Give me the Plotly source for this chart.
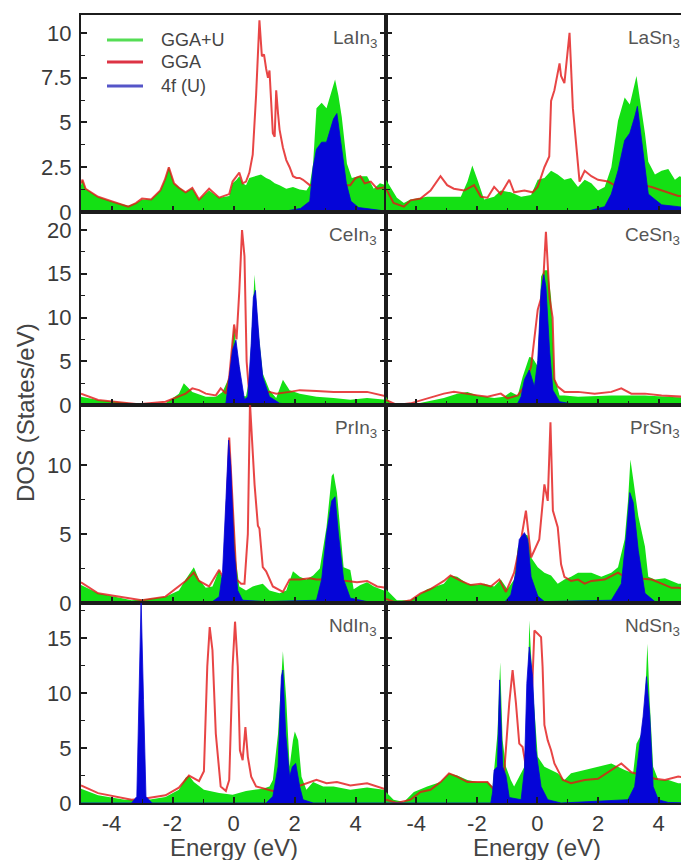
import plotly.graph_objects as go

# ---------------------------------------------------------------
# Density of states (States/eV) versus energy (eV), E_F = 0.
# Each series is a list of (energy, DOS) points.
# ggau = GGA+U total DOS, gga = plain GGA total DOS, f4 = 4f (U) partial DOS
# ---------------------------------------------------------------

lain3_ggau = [(-5.0,1.5),(-4.95,1.8),(-4.85,1.3),(-4.44,0.85),(-4.0,0.6),(-3.45,0.35),(-3.2,0.5),(-3.0,0.7),(-2.7,0.7),(-2.4,1.2),(-2.25,1.8),(-2.12,2.5),(-1.95,1.6),(-1.79,1.4),(-1.57,1.1),(-1.35,1.33),(-1.13,0.7),(-0.8,1.2),(-0.47,0.8),(-0.14,0.9),(-0.03,1.6),(0.1,1.8),(0.19,2.0),(0.3,1.6),(0.41,1.5),(0.52,1.9),(0.7,2.0),(0.9,2.1),(1.07,1.9),(1.2,1.8),(1.35,1.6),(1.51,1.5),(1.73,1.3),(1.95,1.4),(2.17,1.25),(2.39,1.2),(2.5,1.5),(2.61,2.7),(2.72,5.8),(2.89,6.1),(3.05,5.8),(3.22,6.7),(3.33,7.4),(3.44,6.5),(3.55,5.3),(3.72,2.7),(3.88,1.9),(4.1,2.0),(4.38,2.0),(4.6,1.3),(4.8,1.6),(5.0,1.5)]
lain3_gga = [(-5.0,1.6),(-4.95,1.8),(-4.85,1.3),(-4.44,0.85),(-4.0,0.6),(-3.45,0.3),(-3.2,0.5),(-3.0,0.75),(-2.7,0.7),(-2.4,1.2),(-2.25,1.8),(-2.12,2.5),(-1.95,1.6),(-1.79,1.35),(-1.57,1.1),(-1.35,1.35),(-1.13,0.7),(-0.8,1.3),(-0.47,0.8),(-0.14,1.0),(-0.03,1.7),(0.1,2.0),(0.19,2.2),(0.3,1.6),(0.41,1.7),(0.52,2.2),(0.63,3.2),(0.74,6.5),(0.85,10.7),(0.93,8.7),(1.0,8.8),(1.07,8.0),(1.13,7.5),(1.18,7.9),(1.29,4.4),(1.35,4.2),(1.40,6.8),(1.46,5.5),(1.51,4.6),(1.62,3.6),(1.73,2.9),(1.84,2.5),(1.95,2.0),(2.06,1.9),(2.17,1.9),(2.28,1.8),(2.5,1.5),(2.8,1.5),(3.2,1.5),(3.6,1.5),(3.83,1.5),(4.0,1.9),(4.16,2.0),(4.3,1.6),(4.5,1.7),(4.71,1.3),(5.0,1.4)]
lain3_f4 = [(-5.0,0.0),(1.5,0.0),(1.8,0.08),(2.2,0.2),(2.5,0.6),(2.61,2.5),(2.72,3.5),(2.89,3.9),(3.05,3.9),(3.17,4.6),(3.28,5.2),(3.39,5.5),(3.48,4.5),(3.59,3.0),(3.7,1.6),(3.85,0.6),(4.1,0.25),(4.5,0.15),(5.0,0.05)]

lasn3_ggau = [(-5.0,1.8),(-4.86,1.4),(-4.64,0.8),(-4.41,0.5),(-4.19,0.7),(-3.64,0.85),(-3.09,0.85),(-2.53,0.85),(-2.31,1.7),(-2.15,2.6),(-1.98,1.8),(-1.76,0.7),(-1.43,0.85),(-1.21,1.2),(-0.88,1.1),(-0.54,0.85),(-0.21,0.95),(0.01,1.8),(0.23,1.9),(0.45,2.3),(0.67,2.1),(0.89,1.8),(1.11,1.9),(1.34,1.4),(1.56,1.8),(1.78,1.6),(2.0,1.2),(2.22,1.4),(2.44,2.5),(2.66,5.1),(2.88,6.4),(3.05,6.0),(3.27,7.6),(3.44,5.7),(3.55,4.4),(3.66,2.8),(3.88,2.1),(4.1,2.3),(4.32,2.4),(4.54,1.8),(4.69,2.0),(5.0,1.8)]
lasn3_gga = [(-5.0,1.3),(-4.75,0.5),(-4.41,0.3),(-4.19,0.65),(-3.86,0.75),(-3.53,1.2),(-3.2,2.0),(-2.98,1.5),(-2.76,1.3),(-2.42,1.2),(-2.09,1.5),(-1.87,0.85),(-1.65,0.8),(-1.43,1.4),(-1.21,1.0),(-0.93,1.8),(-0.77,1.1),(-0.43,1.2),(-0.16,1.1),(0.01,1.4),(0.23,2.5),(0.39,3.1),(0.45,6.2),(0.56,6.8),(0.73,8.3),(0.78,7.6),(0.89,7.2),(1.06,10.0),(1.17,5.8),(1.28,3.8),(1.39,1.7),(1.56,2.3),(1.78,2.0),(2.0,1.8),(2.33,1.7),(2.55,1.5),(3.0,1.5),(3.5,1.5),(3.77,1.4),(4.1,1.2),(4.32,1.1),(4.65,0.9),(5.0,0.9)]
lasn3_f4 = [(-5.0,0.0),(1.5,0.0),(1.67,0.05),(2.22,0.3),(2.44,1.0),(2.66,2.3),(2.88,4.0),(3.05,4.4),(3.21,5.3),(3.3,5.9),(3.44,4.0),(3.55,2.5),(3.66,1.0),(3.88,0.7),(4.1,0.4),(4.65,0.3),(5.0,0.2)]

cein3_ggau = [(-5.0,0.95),(-4.44,0.57),(-3.34,0.19),(-2.23,0.19),(-1.79,1.3),(-1.63,2.5),(-1.35,1.5),(-0.91,0.95),(-0.58,0.95),(-0.36,1.5),(-0.14,3.2),(0.02,9.1),(0.1,6.0),(0.19,4.4),(0.3,1.0),(0.41,1.0),(0.52,3.0),(0.63,12.0),(0.69,14.9),(0.8,9.0),(0.96,3.6),(1.18,1.7),(1.4,0.8),(1.62,2.9),(1.84,1.7),(2.17,1.3),(2.72,0.95),(3.28,0.8),(3.83,0.6),(4.38,0.8),(5.0,0.6)]
cein3_gga = [(-5.0,1.3),(-4.44,0.57),(-3.12,0.1),(-2.23,0.38),(-1.57,1.3),(-1.35,1.9),(-1.13,1.7),(-0.91,1.3),(-0.58,1.1),(-0.42,1.9),(-0.25,1.3),(-0.14,3.2),(0.02,9.2),(0.1,7.5),(0.19,13.0),(0.28,20.0),(0.36,17.0),(0.43,5.0),(0.52,1.0),(0.69,1.2),(0.96,1.5),(1.18,1.5),(1.4,1.3),(1.84,1.5),(2.17,1.7),(2.72,1.6),(3.28,1.5),(3.83,1.5),(4.38,1.5),(5.0,1.0)]
cein3_f4 = [(-5.0,0.0),(-0.58,0.0),(-0.25,0.2),(-0.14,3.2),(-0.03,6.3),(0.08,7.4),(0.19,4.4),(0.36,0.6),(0.47,0.95),(0.58,7.0),(0.65,12.3),(0.72,13.1),(0.85,7.0),(0.96,3.2),(1.18,0.95),(1.51,0.2),(2.0,0.05),(5.0,0.0)]

cesn3_ggau = [(-5.0,0.95),(-4.86,0.2),(-4.19,0.0),(-3.64,0.38),(-3.09,0.8),(-2.65,1.3),(-2.31,1.5),(-1.98,1.1),(-1.43,0.8),(-1.1,0.95),(-0.88,1.5),(-0.65,1.1),(-0.49,3.2),(-0.27,5.5),(-0.16,5.4),(0.01,4.4),(0.12,14.7),(0.23,15.4),(0.34,15.4),(0.45,12.3),(0.56,3.2),(0.73,1.1),(0.89,1.1),(1.34,0.95),(2.44,1.1),(3.55,1.1),(4.65,0.8),(5.0,0.8)]
cesn3_gga = [(-5.0,0.57),(-4.64,0.0),(-4.19,0.19),(-3.64,0.76),(-3.09,1.3),(-2.76,1.5),(-2.42,1.3),(-1.98,1.1),(-1.65,0.95),(-1.21,1.3),(-0.99,0.76),(-0.65,1.1),(-0.43,2.1),(-0.21,4.4),(0.01,10.9),(0.17,12.8),(0.28,19.8),(0.4,12.3),(0.5,10.0),(0.56,2.9),(0.67,2.1),(0.89,1.5),(1.34,1.5),(1.89,1.3),(2.44,1.5),(2.77,1.9),(3.1,1.3),(3.55,1.3),(4.1,1.1),(4.65,0.95),(5.0,0.9)]
cesn3_f4 = [(-5.0,0.0),(-0.88,0.0),(-0.65,0.2),(-0.54,0.95),(-0.43,2.9),(-0.27,4.0),(-0.1,2.1),(0.01,5.1),(0.12,13.1),(0.21,14.9),(0.28,13.5),(0.4,6.3),(0.51,1.7),(0.73,0.38),(1.34,0.0),(5.0,0.0)]

prin3_ggau = [(-5.0,1.3),(-4.44,0.7),(-3.34,0.2),(-2.95,0.25),(-2.23,0.46),(-1.79,0.9),(-1.57,1.7),(-1.3,2.6),(-1.13,1.7),(-0.91,1.1),(-0.69,1.2),(-0.47,2.4),(-0.36,1.7),(-0.25,2.2),(-0.14,12.0),(-0.03,7.4),(0.08,3.1),(0.19,1.2),(0.41,0.9),(0.63,1.2),(0.96,1.4),(1.18,0.9),(1.51,0.7),(1.73,0.9),(1.95,2.3),(2.17,1.9),(2.39,1.7),(2.61,2.0),(2.83,2.5),(3.05,5.5),(3.22,9.2),(3.28,9.4),(3.39,8.0),(3.61,2.6),(3.83,2.4),(3.94,1.0),(4.16,1.3),(4.38,1.5),(4.6,1.2),(4.93,0.9),(5.0,0.9)]
prin3_gga = [(-5.0,1.5),(-4.44,0.7),(-3.01,0.2),(-2.23,0.46),(-1.57,1.6),(-1.3,2.2),(-1.13,1.6),(-0.8,1.2),(-0.47,2.4),(-0.31,1.7),(-0.14,12.0),(-0.03,7.2),(0.1,1.7),(0.25,1.4),(0.36,1.4),(0.47,5.0),(0.54,14.5),(0.69,8.6),(0.8,5.6),(0.85,5.4),(0.96,2.6),(1.07,2.3),(1.29,1.2),(1.62,0.8),(1.84,1.7),(2.17,1.7),(2.5,1.8),(2.72,1.7),(3.2,1.7),(3.72,1.6),(4.05,1.5),(4.38,1.6),(4.71,1.2),(5.0,1.1)]
prin3_f4 = [(-5.0,0.0),(-0.69,0.1),(-0.47,0.46),(-0.36,2.2),(-0.25,7.4),(-0.16,11.8),(-0.09,9.9),(0.02,3.8),(0.14,0.9),(0.3,0.2),(1.07,0.1),(2.72,0.2),(2.89,1.7),(3.05,5.0),(3.22,7.4),(3.33,7.7),(3.44,5.0),(3.61,1.7),(3.83,0.35),(4.38,0.1),(5.0,0.05)]

prsn3_ggau = [(-5.0,1.0),(-4.64,0.2),(-4.19,0.2),(-3.64,1.0),(-3.09,1.4),(-2.87,2.0),(-2.65,1.9),(-2.31,1.4),(-1.98,1.3),(-1.76,1.4),(-1.43,1.2),(-1.21,1.7),(-0.99,1.0),(-0.77,1.7),(-0.65,4.0),(-0.43,5.0),(-0.32,4.9),(-0.21,3.3),(0.01,2.6),(0.23,2.2),(0.45,2.0),(0.67,1.4),(0.89,1.7),(1.11,1.9),(1.34,2.2),(1.78,2.2),(2.11,1.9),(2.44,2.2),(2.66,2.6),(2.88,4.6),(2.99,7.4),(3.07,10.4),(3.16,9.0),(3.33,6.3),(3.55,4.1),(3.66,1.9),(3.88,1.7),(4.21,1.8),(4.65,1.4),(5.0,1.4)]
prsn3_gga = [(-5.0,0.3),(-4.64,0.0),(-4.19,0.2),(-3.86,0.7),(-3.53,1.0),(-3.09,1.6),(-2.87,2.0),(-2.53,1.6),(-2.2,1.3),(-1.87,1.4),(-1.54,1.2),(-1.26,1.7),(-1.04,0.8),(-0.77,2.2),(-0.54,4.6),(-0.38,6.7),(-0.21,3.3),(-0.05,4.1),(0.06,4.6),(0.23,8.6),(0.34,7.4),(0.43,13.1),(0.51,6.7),(0.67,5.5),(0.78,2.8),(0.89,1.9),(1.11,1.6),(1.34,1.7),(1.56,1.4),(1.78,1.6),(2.22,1.7),(2.66,2.2),(2.88,1.9),(3.3,1.8),(3.77,1.7),(4.1,1.4),(4.43,1.1),(4.65,1.1),(5.0,1.0)]
prsn3_f4 = [(-5.0,0.0),(-1.1,0.0),(-0.88,0.6),(-0.71,2.2),(-0.6,4.6),(-0.43,5.1),(-0.32,4.6),(-0.21,1.9),(0.01,0.5),(0.23,0.1),(2.44,0.2),(2.77,1.4),(2.94,5.0),(3.05,8.0),(3.16,7.3),(3.33,3.8),(3.55,0.7),(3.88,0.1),(5.0,0.05)]

ndin3_ggau = [(-5.0,1.3),(-4.44,0.7),(-3.56,0.3),(-3.23,0.3),(-2.79,0.3),(-2.23,0.55),(-1.79,1.2),(-1.57,2.3),(-1.46,2.5),(-1.3,1.9),(-0.97,1.2),(-0.47,0.9),(-0.03,0.75),(0.41,1.1),(0.74,1.2),(0.96,1.3),(1.18,1.5),(1.29,2.1),(1.46,6.3),(1.62,13.8),(1.73,9.4),(1.84,3.3),(1.95,5.7),(2.01,6.5),(2.12,5.7),(2.23,2.4),(2.39,1.2),(2.61,1.9),(2.94,1.5),(3.28,1.5),(3.83,1.2),(4.38,1.4),(4.93,1.2),(5.0,1.2)]
ndin3_gga = [(-5.0,1.6),(-4.44,0.9),(-3.34,0.3),(-2.9,0.4),(-2.23,0.7),(-1.79,1.4),(-1.46,2.5),(-1.13,2.0),(-0.97,2.9),(-0.86,12.4),(-0.78,16.0),(-0.69,13.9),(-0.58,6.3),(-0.42,1.5),(-0.25,1.1),(-0.14,2.1),(-0.03,12.4),(0.05,16.5),(0.14,12.4),(0.21,4.8),(0.3,3.9),(0.39,6.9),(0.47,4.2),(0.58,2.4),(0.74,1.5),(1.07,1.3),(1.29,1.1),(1.8,1.2),(2.39,1.8),(2.72,2.1),(3.05,1.8),(3.39,1.9),(3.83,1.6),(4.38,1.8),(4.93,1.3),(5.0,1.3)]
ndin3_f4 = [(-5.0,0.0),(-3.34,0.0),(-3.17,0.6),(-3.09,9.4),(-3.03,18.5),(-2.95,9.4),(-2.87,0.6),(-2.67,0.0),(1.07,0.0),(1.29,0.6),(1.46,3.3),(1.57,11.5),(1.62,12.1),(1.71,6.3),(1.84,2.4),(1.93,3.3),(2.04,3.6),(2.17,1.5),(2.28,0.3),(2.61,0.0),(5.0,0.0)]

ndsn3_ggau = [(-5.0,1.0),(-4.75,0.3),(-4.41,0.1),(-4.08,1.0),(-3.64,1.5),(-3.2,1.9),(-2.92,2.7),(-2.65,2.5),(-2.31,2.1),(-1.98,1.9),(-1.65,1.9),(-1.48,1.5),(-1.32,6.3),(-1.23,12.8),(-1.15,5.7),(-1.04,3.3),(-0.88,2.1),(-0.77,1.5),(-0.43,3.3),(-0.32,9.1),(-0.27,16.6),(-0.16,10.9),(0.01,4.2),(0.23,3.3),(0.45,3.0),(0.67,2.7),(0.89,2.1),(1.11,2.7),(1.56,3.0),(2.0,3.3),(2.44,3.6),(2.88,3.0),(3.16,2.7),(3.27,5.4),(3.44,6.3),(3.55,9.1),(3.63,14.5),(3.71,9.1),(3.82,3.3),(3.99,2.1),(4.32,2.1),(4.65,1.8),(5.0,1.8)]
ndsn3_gga = [(-5.0,0.3),(-4.64,0.0),(-4.19,0.3),(-3.86,1.0),(-3.53,1.2),(-3.2,1.9),(-2.92,2.7),(-2.65,2.4),(-2.31,1.9),(-1.98,1.9),(-1.65,1.9),(-1.43,1.2),(-1.1,2.7),(-0.93,9.1),(-0.82,12.1),(-0.71,9.1),(-0.6,5.4),(-0.49,5.1),(-0.38,3.3),(-0.21,8.0),(-0.1,15.7),(0.01,15.4),(0.12,15.1),(0.17,12.4),(0.23,7.1),(0.34,5.7),(0.45,4.8),(0.56,3.6),(0.73,2.7),(0.84,2.1),(1.11,1.8),(1.56,2.1),(2.0,2.2),(2.44,3.0),(2.77,3.6),(3.1,2.8),(3.5,2.5),(3.88,2.2),(4.21,2.1),(4.65,2.4),(5.0,2.3)]
ndsn3_f4 = [(-5.0,0.0),(-1.54,0.0),(-1.48,1.0),(-1.43,3.0),(-1.32,3.3),(-1.28,8.0),(-1.25,11.2),(-1.21,8.0),(-1.15,3.3),(-1.04,2.5),(-0.93,0.5),(-0.54,0.3),(-0.43,3.0),(-0.35,10.9),(-0.27,14.2),(-0.16,11.5),(-0.05,4.8),(0.12,1.5),(0.34,0.3),(0.78,0.0),(2.99,0.3),(3.21,1.5),(3.49,7.9),(3.6,11.5),(3.71,7.9),(3.82,1.5),(3.99,0.3),(4.32,0.05),(5.0,0.0)]

compounds = ["LaIn<sub>3</sub>", "LaSn<sub>3</sub>", "CeIn<sub>3</sub>", "CeSn<sub>3</sub>",
             "PrIn<sub>3</sub>", "PrSn<sub>3</sub>", "NdIn<sub>3</sub>", "NdSn<sub>3</sub>"]
series = [
    (lain3_ggau, lain3_gga, lain3_f4), (lasn3_ggau, lasn3_gga, lasn3_f4),
    (cein3_ggau, cein3_gga, cein3_f4), (cesn3_ggau, cesn3_gga, cesn3_f4),
    (prin3_ggau, prin3_gga, prin3_f4), (prsn3_ggau, prsn3_gga, prsn3_f4),
    (ndin3_ggau, ndin3_gga, ndin3_f4), (ndsn3_ggau, ndsn3_gga, ndsn3_f4),
]

legend_names = ["GGA+U", "GGA", "4f (U)"]

# y-axis scale per row (La, Ce, Pr, Nd)
row_ymax = [11.0, 22.06, 14.35, 18.2]
row_ticks = [[0, 2.5, 5, 7.5, 10], [0, 5, 10, 15, 20], [0, 5, 10], [0, 5, 10, 15]]
row_ticktext = [["0", "2.5", "5", "7.5", "10"], ["0", "5", "10", "15", "20"],
                ["0", "5", "10"], ["0", "5", "10", "15"]]
row_minor = [[1.25, 3.75, 6.25, 8.75], [2.5, 7.5, 12.5, 17.5], [2.5, 7.5, 12.5], [2.5, 7.5, 12.5, 17.5]]

x_ticks = [-4, -2, 0, 2, 4]
x_ticktext = ["-4", "-2", "0", "2", "4"]
x_minor = [-5, -3, -1, 1, 3, 5]

# ---------------------------------------------------------------
# Geometry (pixels)
W, H = 681, 860
ML, MT, MB = 81, 15, 57
PW, PH = W - ML, H - MT - MB
split_px = 305                     # width of left column
col_dom = [[0, split_px / PW], [split_px / PW, 1.0]]
x_ranges = [[-5, 5], [-5, 4.74]]
row_px = [0, 197, 390, 588, 788]   # row borders from top of plot area
row_dom = [[(PH - row_px[r + 1]) / PH, (PH - row_px[r]) / PH] for r in range(4)]

GREEN = "#14e014"
RED = "rgba(226,22,22,0.8)"
BLUE = "#0505d8"
AXC = "#1c1c1c"
FONT = "Arial, Liberation Sans, sans-serif"
TXT = "#3a3a3a"


def ax_id(n):
    return "" if n == 1 else str(n)


fig = go.Figure()
layout = dict(width=W, height=H, margin=dict(l=ML, r=0, t=MT, b=MB),
              paper_bgcolor="white", plot_bgcolor="white", showlegend=False,
              font=dict(family=FONT, color=TXT))
annotations = []
shapes = []

for i in range(8):
    r, c = divmod(i, 2)
    n = i + 1
    xa, ya = "x" + ax_id(n), "y" + ax_id(n)
    ggau, gga, f4 = series[i]
    fig.add_trace(go.Scatter(x=[p[0] for p in ggau], y=[p[1] for p in ggau], mode="lines",
                             fill="tozeroy", fillcolor=GREEN, line=dict(width=0, color=GREEN),
                             xaxis=xa, yaxis=ya, name=legend_names[0]))
    fig.add_trace(go.Scatter(x=[p[0] for p in gga], y=[p[1] for p in gga], mode="lines",
                             line=dict(width=2, color=RED),
                             xaxis=xa, yaxis=ya, name=legend_names[1]))
    fig.add_trace(go.Scatter(x=[p[0] for p in f4], y=[p[1] for p in f4], mode="lines",
                             fill="tozeroy", fillcolor=BLUE, line=dict(width=0.8, color=BLUE),
                             xaxis=xa, yaxis=ya, name=legend_names[2]))

    lo, hi = x_ranges[c]
    layout["xaxis" + ax_id(n)] = dict(
        domain=col_dom[c], range=x_ranges[c], anchor=ya, showgrid=False, zeroline=False,
        showline=True, linecolor=AXC, linewidth=2, mirror=True,
        ticks="inside", ticklen=6, tickwidth=1.5, tickcolor=AXC,
        tickmode="array", tickvals=x_ticks, ticktext=x_ticktext,
        showticklabels=(r == 3), tickfont=dict(size=22, color=TXT),
        minor=dict(tickmode="array", tickvals=x_minor, ticks="inside", ticklen=4,
                   tickwidth=1, tickcolor=AXC),
    )
    layout["yaxis" + ax_id(n)] = dict(
        domain=row_dom[r], range=[0, row_ymax[r]], anchor=xa, showgrid=False, zeroline=False,
        showline=True, linecolor=AXC, linewidth=2, mirror=("ticks" if c == 0 else False),
        ticks="inside", ticklen=6, tickwidth=1.5, tickcolor=AXC,
        tickmode="array", tickvals=row_ticks[r], ticktext=row_ticktext[r],
        showticklabels=(c == 0), tickfont=dict(size=22, color=TXT), ticklabelstandoff=3,
        minor=dict(tickmode="array", tickvals=row_minor[r], ticks="inside", ticklen=4,
                   tickwidth=1, tickcolor=AXC),
    )

    # compound label in the upper right corner of each panel
    label_e = 4.76
    row_h = row_px[r + 1] - row_px[r]
    annotations.append(dict(
        text=compounds[i], xref=xa + " domain", yref=ya + " domain",
        x=(label_e - lo) / (hi - lo), y=1 - 24 / row_h, xanchor="right", yanchor="middle",
        showarrow=False, font=dict(size=19, color="#555", family=FONT)))

# legend drawn inside the top-left panel
leg_colors = ["#55dd55", "#dd3344", "#5555c8"]
leg_y_px = [25, 47, 71]          # from top of the panel
for k in range(3):
    yy = 1 - leg_y_px[k] / row_px[1]
    shapes.append(dict(type="line", xref="x domain", yref="y domain",
                       x0=26 / split_px, x1=62 / split_px, y0=yy, y1=yy,
                       line=dict(color=leg_colors[k], width=3)))
    annotations.append(dict(text=legend_names[k], xref="x domain", yref="y domain",
                            x=78 / split_px, y=yy, xanchor="left", yanchor="middle",
                            showarrow=False, font=dict(size=18, color="#444", family=FONT)))

# axis titles
annotations.append(dict(text="DOS (States/eV)", xref="paper", yref="paper",
                        x=(25 - ML) / PW, y=(PH - 398) / PH, textangle=-90,
                        xanchor="center", yanchor="middle", showarrow=False,
                        font=dict(size=24, color="#444", family=FONT)))
for n, c in ((7, 0), (8, 1)):
    lo, hi = x_ranges[c]
    annotations.append(dict(text="Energy (eV)", xref="x" + ax_id(n) + " domain", yref="paper",
                            x=(0 - lo) / (hi - lo), y=-44 / PH, xanchor="center",
                            yanchor="middle", showarrow=False,
                            font=dict(size=24, color="#444", family=FONT)))

layout["annotations"] = annotations
layout["shapes"] = shapes
fig.update_layout(**layout)
fig.write_html("out.html")
